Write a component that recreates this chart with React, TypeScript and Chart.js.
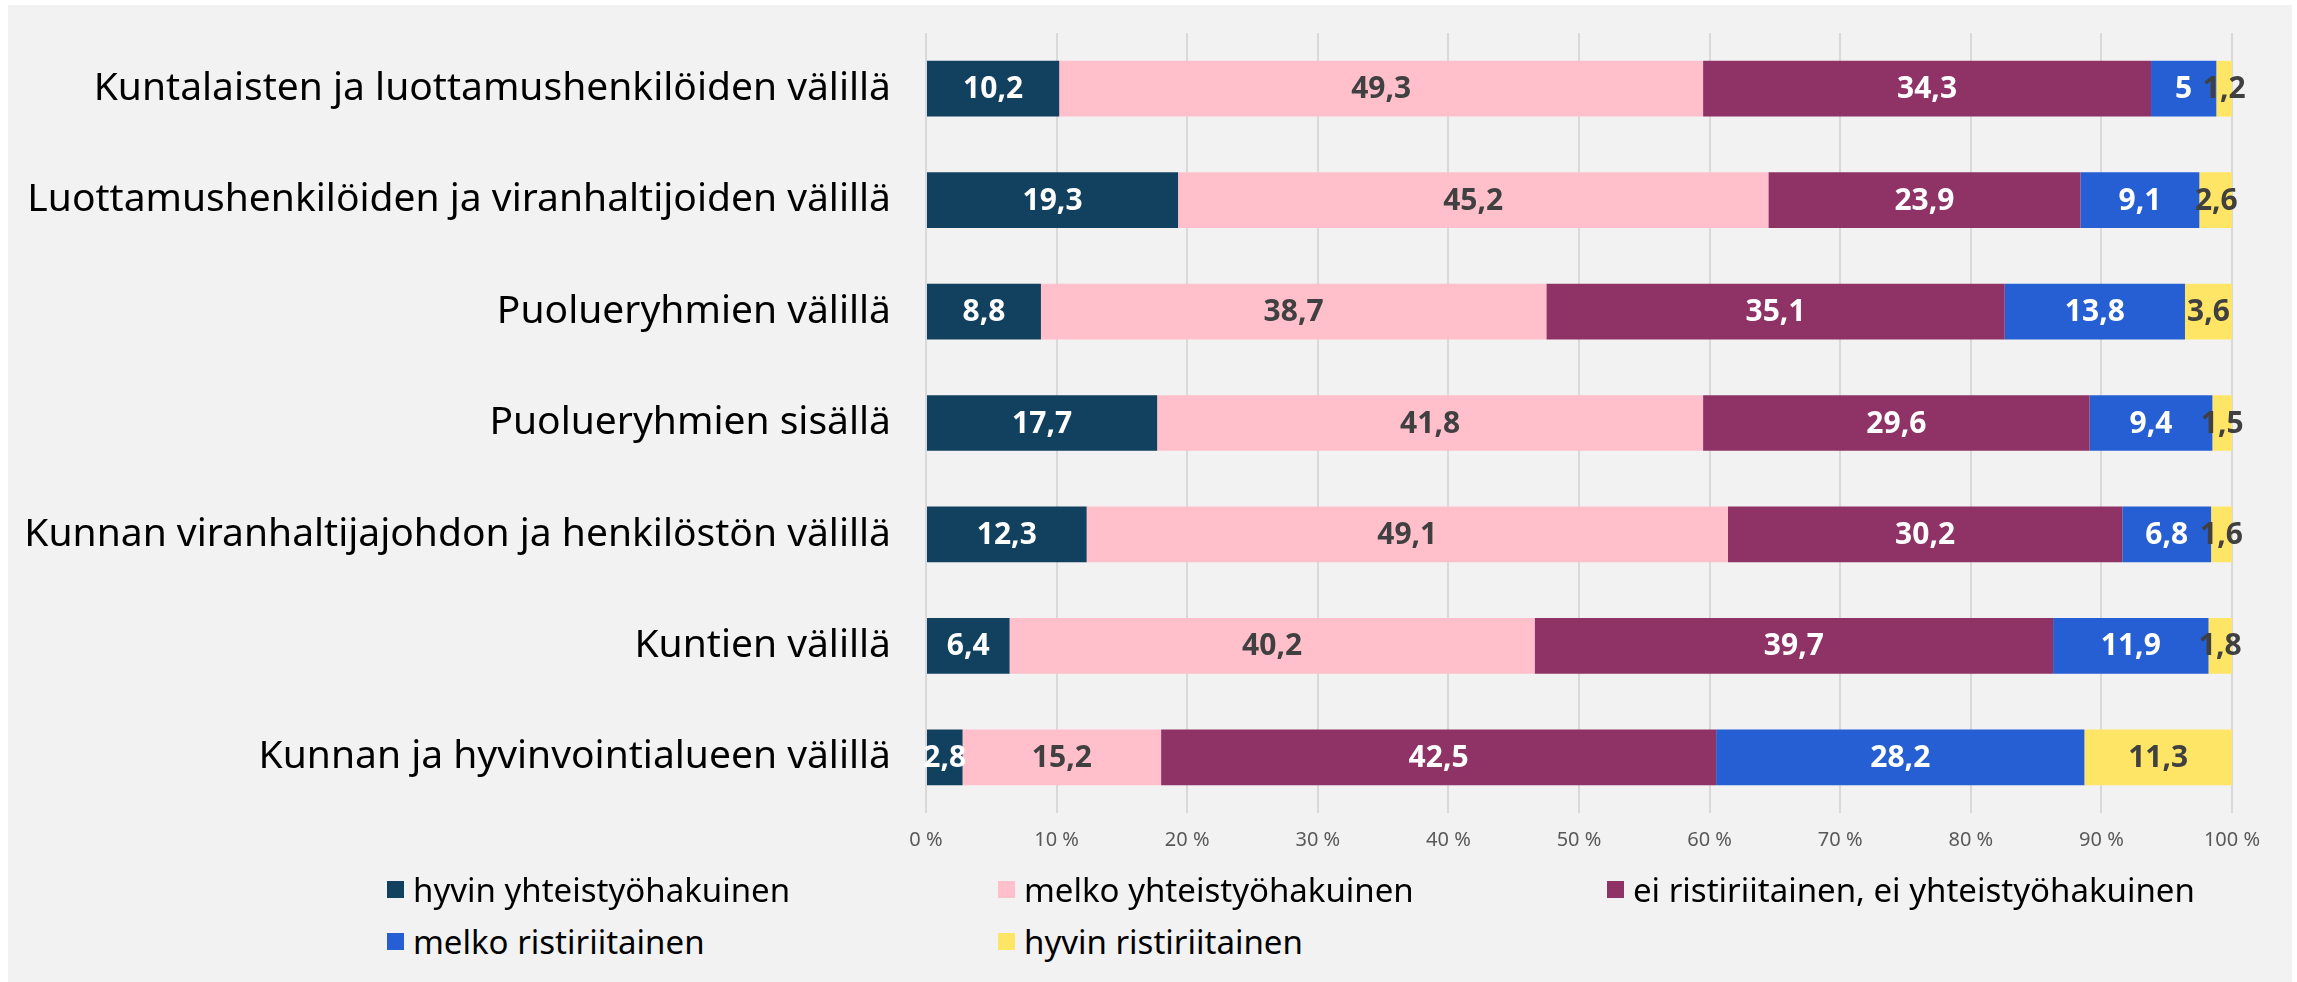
import React, { useEffect, useRef } from "react";
import { Chart, registerables } from "chart.js";

Chart.register(...registerables);

const categories = [
  "Kuntalaisten ja luottamushenkilöiden välillä",
  "Luottamushenkilöiden ja viranhaltijoiden välillä",
  "Puolueryhmien välillä",
  "Puolueryhmien sisällä",
  "Kunnan viranhaltijajohdon ja henkilöstön välillä",
  "Kuntien välillä",
  "Kunnan ja hyvinvointialueen välillä",
];

const seriesNames = [
  "hyvin yhteistyöhakuinen",
  "melko yhteistyöhakuinen",
  "ei ristiriitainen, ei yhteistyöhakuinen",
  "melko ristiriitainen",
  "hyvin ristiriitainen",
];

const hyvinYhteistyo = [10.2, 19.3, 8.8, 17.7, 12.3, 6.4, 2.8];
const melkoYhteistyo = [49.3, 45.2, 38.7, 41.8, 49.1, 40.2, 15.2];
const eiRistiriitainen = [34.3, 23.9, 35.1, 29.6, 30.2, 39.7, 42.5];
const melkoRistiriitainen = [5, 9.1, 13.8, 9.4, 6.8, 11.9, 28.2];
const hyvinRistiriitainen = [1.2, 2.6, 3.6, 1.5, 1.6, 1.8, 11.3];

const seriesValues = [
  hyvinYhteistyo,
  melkoYhteistyo,
  eiRistiriitainen,
  melkoRistiriitainen,
  hyvinRistiriitainen,
];

const seriesColors = ["#12405f", "#ffc0cb", "#8f3366", "#265fd3", "#ffe566"];
const labelColors = ["#ffffff", "#404040", "#ffffff", "#ffffff", "#404040"];

const xTickValues = [0, 10, 20, 30, 40, 50, 60, 70, 80, 90, 100];

const FONT = '"Noto Sans", sans-serif';

const valueLabels = {
  id: "valueLabels",
  afterDatasetsDraw(chart: any) {
    const ctx = chart.ctx;
    ctx.save();
    ctx.font = `bold 30px ${FONT}`;
    ctx.textAlign = "center";
    ctx.textBaseline = "middle";
    chart.data.datasets.forEach((ds: any, i: number) => {
      const meta = chart.getDatasetMeta(i);
      meta.data.forEach((bar: any, j: number) => {
        const v = ds.data[j];
        const p = bar.getProps(["x", "y", "base"], true);
        const cx = (p.x + p.base) / 2;
        ctx.fillStyle = labelColors[i];
        ctx.fillText(String(v).replace(".", ","), cx, p.y + 1);
      });
    });
    ctx.restore();
  },
};

export default function App() {
  const canvasRef = useRef<HTMLCanvasElement | null>(null);

  useEffect(() => {
    document.body.style.margin = "0";
    const canvas = canvasRef.current;
    if (!canvas) return;
    const chart = new Chart(canvas, {
      type: "bar",
      data: {
        labels: categories,
        datasets: seriesNames.map((name, i) => ({
          label: name,
          data: seriesValues[i],
          backgroundColor: seriesColors[i],
          borderWidth: 0,
          barPercentage: 0.5,
          categoryPercentage: 1,
        })),
      },
      options: {
        indexAxis: "y",
        responsive: false,
        animation: false,
        layout: { padding: { top: 28, right: 60, bottom: 0, left: 0 } },
        plugins: {
          legend: { display: false },
          tooltip: { enabled: false },
        },
        scales: {
          x: {
            stacked: true,
            min: 0,
            max: 100,
            afterBuildTicks: (scale: any) => {
              scale.ticks = xTickValues.map((v) => ({ value: v }));
            },
            afterFit: (scale: any) => {
              scale.height = 62;
              scale.paddingTop = 0;
              scale.paddingBottom = 0;
            },
            grid: {
              color: "#d9d9d9",
              lineWidth: 2,
              drawTicks: false,
            },
            border: { display: false },
            ticks: {
              padding: 15,
              color: "#595959",
              font: { family: FONT, size: 20 },
              callback: (v: any) => `${v} %`,
            },
          },
          y: {
            stacked: true,
            afterFit: (scale: any) => {
              scale.width = 918;
              scale.paddingTop = 0;
              scale.paddingBottom = 0;
            },
            grid: { display: false, drawTicks: false },
            border: { display: false },
            ticks: {
              padding: 35,
              color: "#000000",
              font: { family: FONT, size: 39 },
            },
          },
        },
      },
      plugins: [valueLabels],
    } as any);
    return () => chart.destroy();
  }, []);

  const colLeft = [387, 998, 1607];
  const rowCenter = [889, 941];

  return (
    <div style={{ position: "relative", width: 2297, height: 982, background: "#ffffff", overflow: "hidden" }}>
      <div style={{ position: "absolute", left: 8, top: 5, width: 2284, height: 977, background: "#f2f2f2" }}>
        <canvas ref={canvasRef} width={2284} height={870} style={{ display: "block", width: 2284, height: 870 }} />
      </div>
      {seriesNames.map((name, i) => (
        <div
          key={name}
          style={{
            position: "absolute",
            left: colLeft[i % 3],
            top: rowCenter[Math.floor(i / 3)] - 22,
            height: 44,
            display: "flex",
            alignItems: "center",
            whiteSpace: "nowrap",
            fontFamily: FONT,
            fontSize: 33,
            color: "#000000",
          }}
        >
          <span style={{ display: "inline-block", width: 17, height: 17, background: seriesColors[i], marginRight: 9 }} />
          <span>{name}</span>
        </div>
      ))}
    </div>
  );
}
